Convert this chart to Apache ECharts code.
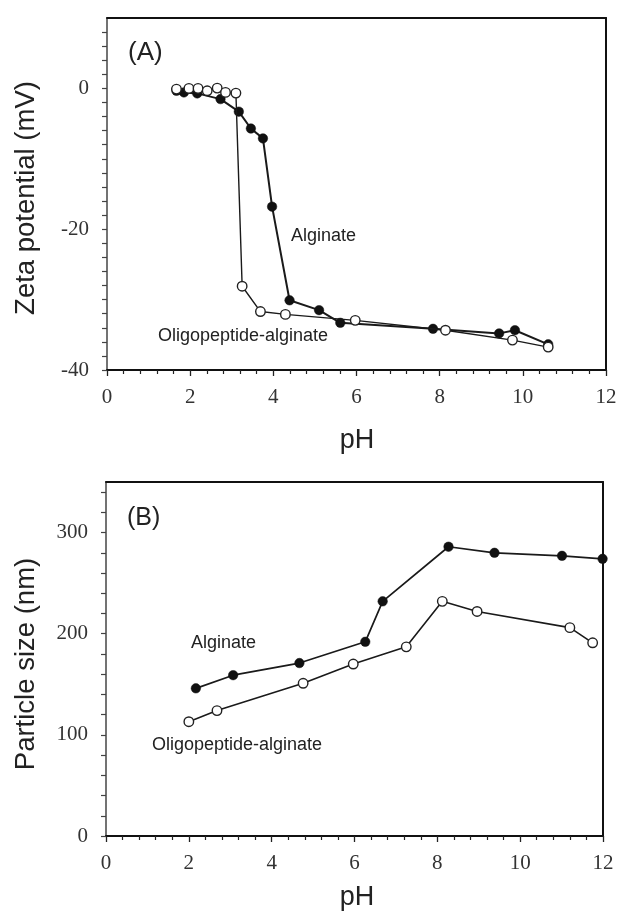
<!DOCTYPE html>
<html>
<head>
<meta charset="utf-8">
<script src="https://cdn.jsdelivr.net/npm/echarts@6/dist/echarts.min.js"></script>
<style>
html,body{margin:0;padding:0;background:#fff;}
#chart{width:620px;height:913px;}
</style>
</head>
<body>
<div id="chart"></div>
<script>
// Panel A: zeta potential vs pH
const zetaAlgPH   = [1.67, 1.85, 2.17, 2.73, 3.17, 3.46, 3.75, 3.97, 4.39, 5.10, 5.61, 7.84, 9.43, 9.81, 10.61];
const zetaAlgVal  = [-0.34, -0.57, -0.71, -1.52, -3.3, -5.7, -7.1, -16.8, -30.1, -31.5, -33.3, -34.15, -34.8, -34.35, -36.35];
const zetaOligoPH  = [1.67, 1.97, 2.19, 2.41, 2.65, 2.85, 3.10, 3.25, 3.69, 4.29, 5.97, 8.14, 9.75, 10.61];
const zetaOligoVal = [-0.1, 0.0, 0.0, -0.34, 0.04, -0.57, -0.67, -28.1, -31.7, -32.1, -32.95, -34.35, -35.75, -36.75];

// Panel B: particle size vs pH
const sizeAlgPH   = [2.17, 3.07, 4.67, 6.26, 6.68, 8.27, 9.38, 11.01, 11.99];
const sizeAlgVal  = [146, 159, 171, 192, 232, 286, 280, 277, 274];
const sizeOligoPH  = [2.0, 2.68, 4.76, 5.97, 7.25, 8.12, 8.96, 11.2, 11.75];
const sizeOligoVal = [113, 124, 151, 170, 187, 232, 222, 206, 191];

// Axis tick labels
const xTickLabels = ['0', '2', '4', '6', '8', '10', '12'];
const zetaTickLabels = ['-40', '-20', '0'];
const sizeTickLabels = ['0', '100', '200', '300'];

const pairs = (xs, ys) => xs.map((x, i) => [x, ys[i]]);

const chart = echarts.init(document.getElementById('chart'), null, {renderer: 'canvas'});

const serifLabel = {fontFamily: '"Liberation Serif", "Times New Roman", serif', fontSize: 21, color: '#333'};
const sans = '"Liberation Sans", Arial, sans-serif';

function xAxisMain(gi) {
  return {
    type: 'value', gridIndex: gi, position: 'bottom', min: 0, max: 12, interval: 2,
    axisLine: {show: true, onZero: false, lineStyle: {color: '#111', width: 2}},
    axisTick: {show: true, inside: false, length: 6, lineStyle: {color: '#222', width: 1.3}},
    minorTick: {show: true, splitNumber: 5, length: 4, lineStyle: {color: '#222', width: 1.2}},
    axisLabel: Object.assign({margin: 17, formatter: v => {
      const s = String(Math.round(v)); return xTickLabels.includes(s) ? s : '';
    }}, serifLabel),
    splitLine: {show: false}, minorSplitLine: {show: false}
  };
}
function frameX(gi) {
  return {type: 'value', gridIndex: gi, position: 'top', min: 0, max: 12,
    axisLine: {show: true, onZero: false, lineStyle: {color: '#111', width: 2}},
    axisTick: {show: false}, axisLabel: {show: false}, splitLine: {show: false}};
}
function frameY(gi, mn, mx) {
  return {type: 'value', gridIndex: gi, position: 'right', min: mn, max: mx,
    axisLine: {show: true, onZero: false, lineStyle: {color: '#111', width: 2}},
    axisTick: {show: false}, axisLabel: {show: false}, splitLine: {show: false}};
}

const option = {
  animation: false,
  backgroundColor: '#fff',
  grid: [
    {left: 107, top: 18, width: 499, height: 352, containLabel: false, outerBoundsMode: 'none'},
    {left: 106, top: 482, width: 497, height: 354, containLabel: false, outerBoundsMode: 'none'}
  ],
  xAxis: [xAxisMain(0), frameX(0), xAxisMain(1), frameX(1)],
  yAxis: [
    {
      type: 'value', gridIndex: 0, position: 'left', min: -40, max: 10, interval: 2,
      axisLine: {show: true, onZero: false, lineStyle: {color: '#444', width: 1.5}},
      axisTick: {show: true, inside: false, length: 5, lineStyle: {color: '#444', width: 1.2}},
      axisLabel: Object.assign({margin: 18, showMaxLabel: false, formatter: v => {
        const s = String(Math.round(v)); return zetaTickLabels.includes(s) ? s : '';
      }}, serifLabel),
      splitLine: {show: false}
    },
    frameY(0, -40, 10),
    {
      type: 'value', gridIndex: 1, position: 'left', min: 0, max: 350, interval: 20,
      axisLine: {show: true, onZero: false, lineStyle: {color: '#444', width: 1.5}},
      axisTick: {show: true, inside: false, length: 5, lineStyle: {color: '#444', width: 1.2}},
      axisLabel: Object.assign({margin: 18, showMaxLabel: false, formatter: v => {
        const s = String(Math.round(v)); return sizeTickLabels.includes(s) ? s : '';
      }}, serifLabel),
      splitLine: {show: false}
    },
    frameY(1, 0, 350)
  ],
  series: [
    {
      name: 'Alginate', type: 'line', xAxisIndex: 0, yAxisIndex: 0,
      data: pairs(zetaAlgPH, zetaAlgVal), symbol: 'circle', symbolSize: 9.5,
      lineStyle: {color: '#1a1a1a', width: 2}, itemStyle: {color: '#111', borderColor: '#111', borderWidth: 0.5}, z: 3
    },
    {
      name: 'Oligopeptide-alginate', type: 'line', xAxisIndex: 0, yAxisIndex: 0,
      data: pairs(zetaOligoPH, zetaOligoVal), symbol: 'circle', symbolSize: 9.5,
      lineStyle: {color: '#1a1a1a', width: 1.4}, itemStyle: {color: '#fff', borderColor: '#222', borderWidth: 1.4}, z: 4
    },
    {
      name: 'Alginate', type: 'line', xAxisIndex: 2, yAxisIndex: 2,
      data: pairs(sizeAlgPH, sizeAlgVal), symbol: 'circle', symbolSize: 9.5,
      lineStyle: {color: '#1a1a1a', width: 1.7}, itemStyle: {color: '#111', borderColor: '#111', borderWidth: 0.5}, z: 3
    },
    {
      name: 'Oligopeptide-alginate', type: 'line', xAxisIndex: 2, yAxisIndex: 2,
      data: pairs(sizeOligoPH, sizeOligoVal), symbol: 'circle', symbolSize: 9.5,
      lineStyle: {color: '#1a1a1a', width: 1.6}, itemStyle: {color: '#fff', borderColor: '#222', borderWidth: 1.4}, z: 4
    }
  ],
  graphic: [
    {type: 'text', left: 128, top: 40, style: {text: '(A)', font: '26px ' + sans, fill: '#222'}},
    {type: 'text', x: 291, y: 236, style: {text: 'Alginate', font: '18px ' + sans, fill: '#222', verticalAlign: 'middle'}},
    {type: 'text', x: 158, y: 336, style: {text: 'Oligopeptide-alginate', font: '18px ' + sans, fill: '#222', verticalAlign: 'middle'}},
    {type: 'text', x: 357, y: 441, style: {text: 'pH', font: '27px ' + sans, fill: '#222', align: 'center', verticalAlign: 'middle'}},
    {type: 'text', x: 26, y: 198, rotation: Math.PI / 2, style: {text: 'Zeta potential (mV)', font: '27.5px ' + sans, fill: '#222', align: 'center', verticalAlign: 'middle'}},
    {type: 'text', left: 127, top: 506, style: {text: '(B)', font: '25px ' + sans, fill: '#222'}},
    {type: 'text', x: 191, y: 643, style: {text: 'Alginate', font: '18px ' + sans, fill: '#222', verticalAlign: 'middle'}},
    {type: 'text', x: 152, y: 745, style: {text: 'Oligopeptide-alginate', font: '18px ' + sans, fill: '#222', verticalAlign: 'middle'}},
    {type: 'text', x: 357, y: 898, style: {text: 'pH', font: '27px ' + sans, fill: '#222', align: 'center', verticalAlign: 'middle'}},
    {type: 'text', x: 26, y: 664, rotation: Math.PI / 2, style: {text: 'Particle size (nm)', font: '27.5px ' + sans, fill: '#222', align: 'center', verticalAlign: 'middle'}}
  ]
};
chart.setOption(option);
</script>
</body>
</html>
